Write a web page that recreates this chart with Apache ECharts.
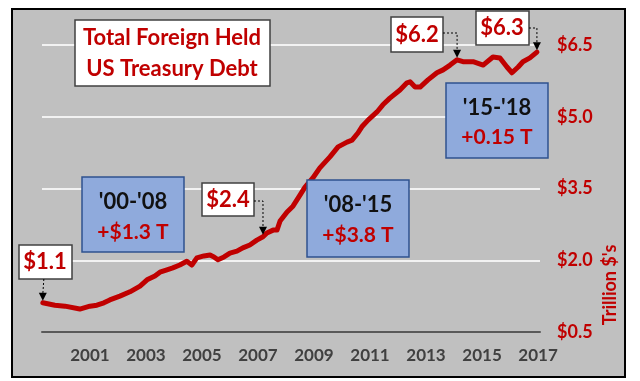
<!DOCTYPE html>
<html><head><meta charset="utf-8">
<script src="https://cdn.jsdelivr.net/npm/echarts/dist/echarts.min.js"></script>
<style>html,body{margin:0;padding:0;background:#fff}#c{width:640px;height:381px}</style>
</head><body><div id="c"></div>
<script>
// ---- data ----
const years = [1999.32,1999.75,2000.11,2000.64,2001.00,2001.25,2001.50,2001.71,2002.07,2002.43,2002.79,2003.04,2003.32,2003.50,2003.75,2003.96,2004.21,2004.46,2004.64,2004.82,2005.07,2005.29,2005.43,2005.57,2005.79,2006.00,2006.25,2006.46,2006.71,2006.96,2007.18,2007.32,2007.54,2007.68,2007.79,2008.04,2008.25,2008.50,2008.68,2008.96,2009.21,2009.57,2009.86,2010.18,2010.36,2010.57,2010.71,2010.93,2011.25,2011.46,2011.71,2012.07,2012.32,2012.43,2012.61,2012.79,2013.07,2013.39,2013.61,2013.86,2014.11,2014.32,2014.68,2015.04,2015.39,2015.64,2015.89,2016.07,2016.29,2016.46,2016.71,2016.96];
const values = [1.11,1.06,1.04,0.98,1.04,1.06,1.11,1.17,1.25,1.34,1.46,1.59,1.67,1.75,1.80,1.84,1.90,1.98,1.90,2.05,2.09,2.11,2.07,2.01,2.07,2.15,2.19,2.26,2.32,2.42,2.49,2.57,2.63,2.63,2.82,3.01,3.13,3.36,3.53,3.72,3.93,4.16,4.37,4.47,4.51,4.66,4.79,4.93,5.10,5.25,5.39,5.56,5.71,5.73,5.62,5.62,5.77,5.92,5.98,6.08,6.19,6.15,6.15,6.08,6.25,6.23,6.04,5.92,6.04,6.15,6.23,6.35];
const xTickYears = [2001,2003,2005,2007,2009,2011,2013,2015,2017];
const yTickMin = 0.5, yTickMax = 6.5, yTickStep = 1.5;
const xMin = 1999.29, xMax = 2017.07;
const titleLines = ['Total Foreign Held','US Treasury Debt'];
const calloutLabels = ['$1.1','$2.4','$6.2','$6.3'];
const calloutIndex = [0,30,60,71];
const periodLabels = ["'00-'08","'08-'15","'15-'18"];
const periodChanges = ['+$1.3 T','+$3.8 T','+0.15 T'];
const axisTitle = "Trillion $'s";

const RED = '#c00000', FONT = 'Lato, "Open Sans", sans-serif';
const chart = echarts.init(document.getElementById('c'), null, {renderer:'canvas'});
const seriesData = years.map((y,i)=>[y, values[i]]);

chart.setOption({
  animation:false,
  backgroundColor:'#ffffff',
  grid:{left:42, right:100, top:45, bottom:49},
  xAxis:{type:'value', min:xMin, max:xMax,
    axisLine:{show:true, onZero:false, lineStyle:{color:'#595959', width:2}},
    axisTick:{show:false}, splitLine:{show:false},
    axisLabel:{customValues:xTickYears, formatter:v=>String(Math.round(v)), color:'#404040', fontFamily:FONT, fontWeight:'bold', fontSize:17, margin:15}
  },
  yAxis:{type:'value', position:'right', min:yTickMin, max:yTickMax, interval:yTickStep,
    axisLine:{show:false}, axisTick:{show:false},
    splitLine:{show:true, lineStyle:{color:'#f2f2f2', width:2}},
    axisLabel:{formatter:v=>'$'+v.toFixed(1), color:RED, fontFamily:FONT, fontWeight:'bold', fontSize:18, margin:17}
  },
  series:[{type:'line', data:seriesData, showSymbol:false, symbol:'none', z:5,
    lineStyle:{color:RED, width:5, join:'round', cap:'round'}}]
});

function rect(x,y,w,h,fill,stroke,z){return {type:'rect', shape:{x,y,width:w,height:h}, style:{fill, stroke, lineWidth:1.5}, z:z||100};}
function txt(x,y,t,color,size,weight){return {type:'text', x, y, z:101, style:{text:t, fill:color, font:(weight||'bold')+' '+size+'px '+FONT, textAlign:'center', textVerticalAlign:'middle', verticalAlign:'middle'}};}
function arrow(pts){
  const tip = pts[pts.length-1];
  const a = [pts.slice(0,-1).concat([[tip[0], tip[1]-7]])];
  return [
    {type:'polyline', z:102, shape:{points:a[0]}, style:{stroke:'#000', lineWidth:1, lineDash:[2,2], fill:null}},
    {type:'polygon', z:102, shape:{points:[[tip[0]-4,tip[1]-8],[tip[0]+4,tip[1]-8],[tip[0],tip[1]]]}, style:{fill:'#000'}}
  ];
}

const P = calloutIndex.map(i=>chart.convertToPixel({gridIndex:0},[years[i],values[i]]));
const BLUE = '#8faadc', BLUEB = '#2f528f';
let g = [
  {type:'rect', z:-10, shape:{x:12,y:9,width:613,height:368}, style:{fill:'#c0c0c0', stroke:'#000', lineWidth:2}},
  rect(75,20,195,66,'#fff','#404040'),
  txt(172,38,titleLines[0],RED,22), txt(172,69,titleLines[1],RED,22),
  // callouts
  rect(19,245,53,34,'#fff','#404040'), txt(45,262,calloutLabels[0],RED,22),
  rect(202,183,52,33,'#fff','#404040'), txt(228,200,calloutLabels[1],RED,22),
  rect(391,17,52,35,'#fff','#404040'), txt(417,35,calloutLabels[2],RED,22),
  rect(476,11,53,34,'#fff','#404040'), txt(502,28,calloutLabels[3],RED,22),
  // period boxes
  rect(82,177,102,75,BLUE,BLUEB), txt(133,202,periodLabels[0],'#111',22), txt(133,232,periodChanges[0],RED,21),
  rect(307,180,102,77,BLUE,BLUEB), txt(358,205,periodLabels[1],'#111',22), txt(358,235,periodChanges[1],RED,21),
  rect(446,83,102,75,BLUE,BLUEB), txt(497,108,periodLabels[2],'#111',22), txt(497,137,periodChanges[2],RED,21),
  {type:'text', x:610, y:285, rotation:Math.PI/2, z:101, style:{text:axisTitle, fill:RED, font:'bold 18px '+FONT, textAlign:'center', textVerticalAlign:'middle', verticalAlign:'middle'}}
];
g = g.concat(arrow([[P[0][0]+1,279],[P[0][0],P[0][1]-2]]));
g = g.concat(arrow([[254,201],[P[1][0],201],[P[1][0],P[1][1]-2]]));
g = g.concat(arrow([[443,33],[P[2][0],33],[P[2][0],P[2][1]-2]]));
g = g.concat(arrow([[529,28],[P[3][0],28],[P[3][0],P[3][1]-2]]));
chart.setOption({graphic:{elements:g}});
</script></body></html>
